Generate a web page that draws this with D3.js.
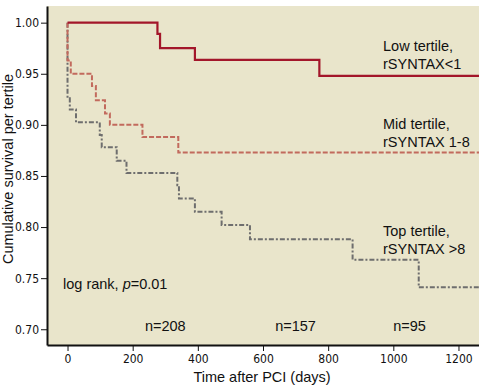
<!DOCTYPE html>
<html><head><meta charset="utf-8">
<script src="https://cdn.jsdelivr.net/npm/d3@7"></script>
<style>body{margin:0;background:#fff}svg{display:block}</style>
</head><body>
<script>
// Data (Kaplan-Meier steps: [day, survival])
const lowTertile = [[0,1.00],[276,0.989],[284,0.975],[391,0.9635],[773,0.948],[1263,0.948]];
const midTertile = [[0,1.00],[0,0.963],[10,0.95],[75,0.938],[87,0.924],[115,0.911],[130,0.90],[230,0.888],[340,0.873],[1263,0.873]];
const topTertile = [[0,1.00],[0,0.926],[7,0.915],[26,0.9025],[99,0.89],[105,0.878],[151,0.865],[181,0.853],[337,0.841],[342,0.828],[391,0.815],[473,0.802],[560,0.788],[875,0.768],[1078,0.741],[1263,0.741]];
const xTicks = [0,200,400,600,800,1000,1200];
const yTicks = [0.70,0.75,0.80,0.85,0.90,0.95,1.00];
const seriesLabels = [["Low tertile,","rSYNTAX<1"],["Mid tertile,","rSYNTAX 1-8"],["Top tertile,","rSYNTAX >8"]];
const atRisk = [["n=208",300],["n=157",700],["n=95",1050]];

const W=479,H=389;
const L=47,T=6,R=479,B=345;
const svg=d3.select("body").append("svg").attr("width",W).attr("height",H);
const x=d3.scaleLinear().domain([-63,1263]).range([L,R]);
const y=d3.scaleLinear().domain([0.6846,1.0163]).range([B,T]);

svg.append("rect").attr("x",L).attr("y",T).attr("width",R-L).attr("height",B-T).attr("fill","#e9e5cb");

const line=d3.line().x(d=>x(d[0])).y(d=>y(d[1])).curve(d3.curveStepAfter);
function draw(data,color,dash,w){
  svg.append("path").datum(data).attr("d",line).attr("fill","none").attr("stroke",color)
   .attr("stroke-width",w).attr("stroke-dasharray",dash);
}
draw(topTertile,"#6e6e6e","5,2,2,2",2);
draw(midTertile,"#c26a5d","5,2",2);
draw(lowTertile,"#a3162a",null,2.2);

const tickFont="'Liberation Sans Narrow','DejaVu Sans Condensed','Arial Narrow',sans-serif";
const yAxis=svg.append("g").attr("transform",`translate(${L},0)`).call(d3.axisLeft(y).tickValues(yTicks).tickFormat(d3.format(".2f")).tickSize(6).tickSizeOuter(0));
const xAxis=svg.append("g").attr("transform",`translate(0,${B})`).call(d3.axisBottom(x).tickValues(xTicks).tickFormat(d3.format("d")).tickSize(6).tickSizeOuter(0));
[yAxis,xAxis].forEach(a=>{
  a.select(".domain").attr("stroke","#111").attr("stroke-width",2);
  a.selectAll(".tick line").attr("stroke","#111").attr("stroke-width",1);
  a.selectAll("text").attr("font-family",tickFont).attr("font-stretch","condensed").attr("font-size",12).attr("fill","#111");
});
yAxis.selectAll(".tick text").attr("x",-8);
xAxis.selectAll(".tick text").attr("y",9);

const f="'Liberation Sans',Arial,sans-serif";
svg.append("text").attr("x",(L+R)/2-1).attr("y",382).attr("text-anchor","middle").attr("font-family",f).attr("font-size",14.5).attr("fill","#111").text("Time after PCI (days)");
svg.append("text").attr("transform",`translate(13,169) rotate(-90)`).attr("text-anchor","middle").attr("font-family",f).attr("font-size",14.5).attr("fill","#111").text("Cumulative survival per tertile");

const labY=[[51,69],[129,147],[236,254]];
seriesLabels.forEach((ls,i)=>{
  ls.forEach((t,j)=>svg.append("text").attr("x",383).attr("y",labY[i][j]).attr("font-family",f).attr("font-size",14.5).attr("fill","#111").text(t));
});
const lr=svg.append("text").attr("x",63).attr("y",289).attr("font-family",f).attr("font-size",14.5).attr("fill","#111");
lr.append("tspan").text("log rank, ");
lr.append("tspan").attr("font-style","italic").text("p");
lr.append("tspan").text("=0.01");
atRisk.forEach(([t,d])=>svg.append("text").attr("x",x(d)).attr("y",331).attr("text-anchor","middle").attr("font-family",f).attr("font-size",14.5).attr("fill","#111").text(t));
</script>
</body></html>
